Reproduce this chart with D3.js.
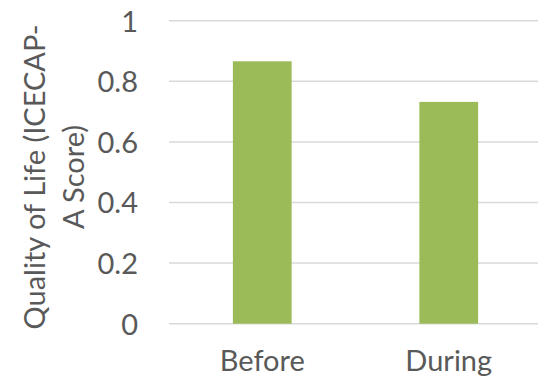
<!DOCTYPE html>
<html>
<head>
<meta charset="utf-8">
<script src="https://cdn.jsdelivr.net/npm/d3@7"></script>
<style>
  html, body { margin: 0; padding: 0; background: #fff; }
  svg { display: block; }
  text { font-family: Lato, "Open Sans", "Liberation Sans", sans-serif; fill: #595959; }
</style>
</head>
<body>
<svg id="chart" width="538" height="378"></svg>
<script>
// Mean ICECAP-A score before and during
const categories = ["Before", "During"];
const scores = [0.866, 0.732];
const yTicks = [0, 0.2, 0.4, 0.6, 0.8, 1];
const titleLines = ["Quality of Life (ICECAP-", "A Score)"];

const svg = d3.select("#chart");
const fontSize = 29;

const x = d3.scaleBand()
  .domain(categories)
  .range([169, 542])
  .paddingInner(0.685)
  .paddingOuter(0.3425);

const y = d3.scaleLinear()
  .domain([0, 1])
  .range([323.7, 20.7]);

// horizontal gridlines
svg.append("g")
  .selectAll("line")
  .data(yTicks)
  .join("line")
  .attr("x1", 169)
  .attr("x2", 542)
  .attr("y1", d => y(d))
  .attr("y2", d => y(d))
  .attr("stroke", "#D9D9D9")
  .attr("stroke-width", 1.5);

// bars
svg.append("g")
  .selectAll("rect")
  .data(categories)
  .join("rect")
  .attr("x", d => x(d))
  .attr("width", x.bandwidth())
  .attr("y", (d, i) => y(scores[i]))
  .attr("height", (d, i) => y(0) - y(scores[i]))
  .attr("fill", "#9BBB59");

// y axis tick labels
const yAxis = d3.axisLeft(y)
  .tickValues(yTicks)
  .tickFormat(d3.format("~g"))
  .tickSize(0)
  .tickPadding(0);

svg.append("g")
  .attr("transform", "translate(138,0)")
  .call(yAxis)
  .call(g => g.select(".domain").remove())
  .call(g => g.selectAll("text")
    .attr("font-size", fontSize)
    .attr("font-family", null)
    .attr("fill", "#595959")
    .attr("dy", "0.36em"));

// x axis category labels
const xAxis = d3.axisBottom(x).tickSize(0).tickPadding(0);
svg.append("g")
  .attr("transform", "translate(0,371)")
  .call(xAxis)
  .call(g => g.select(".domain").remove())
  .call(g => g.selectAll("text")
    .attr("font-size", fontSize)
    .attr("font-family", null)
    .attr("fill", "#595959")
    .attr("dy", 0)
    .attr("y", 0));

// rotated y axis title, two lines
const title = svg.append("text")
  .attr("transform", "rotate(-90)")
  .attr("text-anchor", "middle")
  .attr("font-size", fontSize);

title.selectAll("tspan")
  .data(titleLines)
  .join("tspan")
  .attr("x", -177)
  .attr("y", (d, i) => [45, 84][i])
  .text(d => d);
</script>
</body>
</html>
